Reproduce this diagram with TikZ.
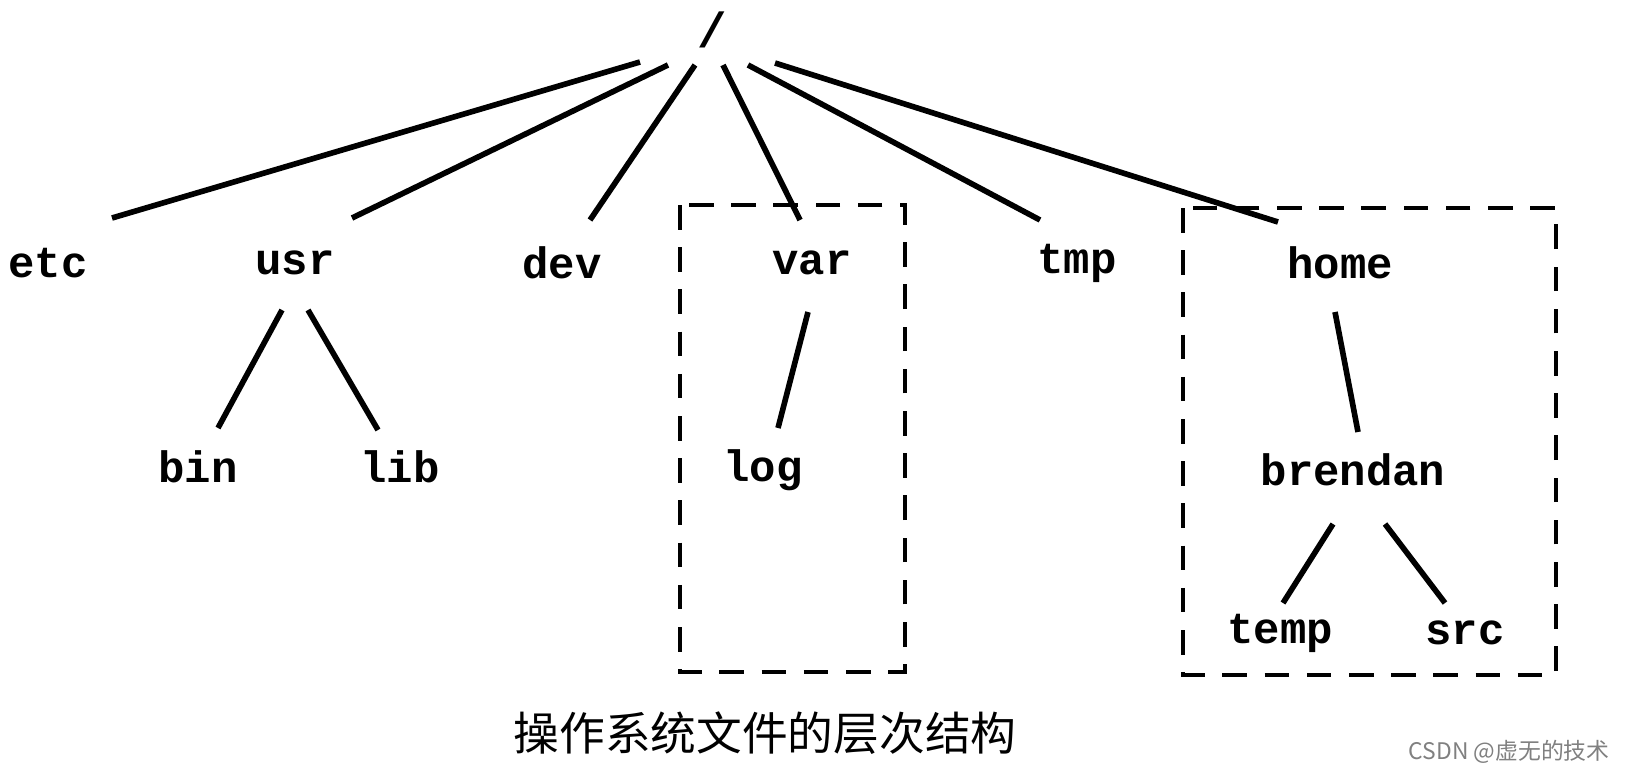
\documentclass[tikz,border=0pt]{standalone}
\usepackage{fontspec}
\setmonofont{Liberation Mono}
\newfontfamily\cjk{Noto Sans CJK SC}
\begin{document}
\begin{tikzpicture}[x=0.01cm,y=-0.01cm,
  lbl/.style={font=\ttfamily\bfseries\fontsize{12.5pt}{14pt}\selectfont,inner sep=1pt},
  edge/.style={line width=1.6pt},
  dbox/.style={dashed,line width=1.3pt,dash pattern=on 7pt off 5pt}]
\node[lbl,font=\ttfamily\bfseries\fontsize{14pt}{16pt}\selectfont] (root) at (712,30) {/};
\node[lbl] (etc) at (48,263) {etc};
\node[lbl] (usr) at (295,263) {usr};
\node[lbl] (dev) at (562,263) {dev};
\node[lbl] (var) at (812,263) {var};
\node[lbl] (tmp) at (1077,263) {tmp};
\node[lbl] (home) at (1340,263) {home};
\node[lbl] (bin) at (198,467) {bin};
\node[lbl] (lib) at (400,467) {lib};
\node[lbl] (log) at (763,470) {log};
\node[lbl] (brendan) at (1353,470) {brendan};
\node[lbl] (temp) at (1280,633) {temp};
\node[lbl] (src) at (1465,633) {src};
\draw[edge] (640,62) -- (112,218);
\draw[edge] (668,65) -- (352,218);
\draw[edge] (695,65) -- (590,220);
\draw[edge] (723,65) -- (800,220);
\draw[edge] (748,65) -- (1040,220);
\draw[edge] (775,63) -- (1278,222);
\draw[edge] (282,310) -- (218,428);
\draw[edge] (308,310) -- (378,430);
\draw[edge] (808,312) -- (778,428);
\draw[edge] (1335,312) -- (1358,432);
\draw[edge] (1333,524) -- (1283,603);
\draw[edge] (1385,524) -- (1445,603);
\draw[dbox] (680,205) rectangle (905,672);
\draw[dbox] (1183,208) rectangle (1556,675);
\node[font=\cjk\fontsize{13pt}{15pt}\selectfont] (cap) at (765,733) {操作系统文件的层次结构};
\node[font=\cjk\fontsize{6.5pt}{8pt}\selectfont,text=gray,anchor=east] (wm) at (1622,752) {CSDN @虚无的技术};
\pgfresetboundingbox
\path[use as bounding box] (0,0) rectangle (1628,782);
\end{tikzpicture}
\end{document}
